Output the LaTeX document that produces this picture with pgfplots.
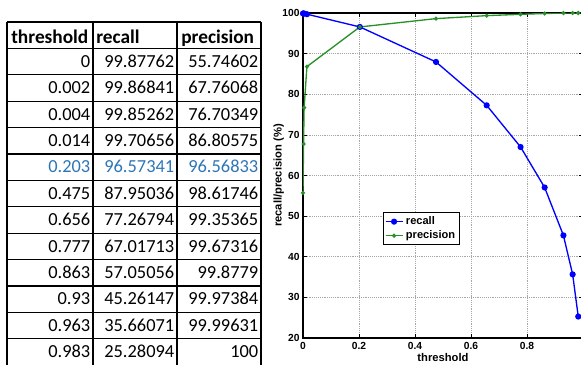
\documentclass[border=0pt]{standalone}
\usepackage{pgfplots}
\pgfplotsset{compat=1.18}
\usepackage{fontspec}
\setmainfont{Liberation Sans}
\newfontfamily\calibri{Carlito}
\definecolor{mblue}{RGB}{0,0,255}
\definecolor{mgreen}{RGB}{40,145,40}
\definecolor{xlblue}{RGB}{46,117,182}
\begin{document}
\begin{tikzpicture}
\useasboundingbox (0,0) rectangle (435.75pt,-273pt);
\begin{scope}[x=0.75pt,y=-0.75pt]
 \foreach \k in {0,...,13} \draw[line width=1pt] (7,22+26.4*\k) -- (261,22+26.4*\k);
 \foreach \c in {7,93,177,261} \draw[line width=1pt] (\c,22) -- (\c,372);
 \node[anchor=base west,inner sep=0pt,font=\calibri\bfseries\fontsize{14.5}{17}\selectfont] at (11,43) {threshold};
 \node[anchor=base west,inner sep=0pt,font=\calibri\bfseries\fontsize{14.5}{17}\selectfont] at (96,43) {recall};
 \node[anchor=base west,inner sep=0pt,font=\calibri\bfseries\fontsize{14.5}{17}\selectfont] at (181,43) {precision};
 \foreach \t/\r/\p/\col [count=\i] in {0/99.87762/55.74602/black,0.002/99.86841/67.76068/black,0.004/99.85262/76.70349/black,0.014/99.70656/86.80575/black,0.203/96.57341/96.56833/xlblue,0.475/87.95036/98.61746/black,0.656/77.26794/99.35365/black,0.777/67.01713/99.67316/black,0.863/57.05056/99.8779/black,0.93/45.26147/99.97384/black,0.963/35.66071/99.99631/black,0.983/25.28094/100/black}{
  \pgfmathsetmacro{\yb}{22+26.4*(\i+1)-7.5}
  \node[anchor=base east,inner sep=0pt,text=\col,font=\calibri\fontsize{13.8}{16}\selectfont] at (90.5,\yb) {\t};
  \node[anchor=base east,inner sep=0pt,text=\col,font=\calibri\fontsize{13.8}{16}\selectfont] at (174.5,\yb) {\r};
  \node[anchor=base east,inner sep=0pt,text=\col,font=\calibri\fontsize{13.8}{16}\selectfont] at (258.5,\yb) {\p};
 }
\end{scope}
\begin{axis}[
 at={(227.25pt,-253.5pt)}, anchor=south west,
 scale only axis, width=210pt, height=243.75pt,
 xmin=0, xmax=1, ymin=20, ymax=100,
 xtick={0,0.2,0.4,0.6,0.8}, xticklabels={0,0.2,0.4,0.6,0.8},
 ytick={20,30,40,50,60,70,80,90,100}, yticklabels={20,30,40,50,60,70,80,90,100},
 tick align=inside, major tick length=3pt,
 tick style={black, line width=0.5pt},
 axis line style={line width=1.1pt},
 grid=major, grid style={densely dotted, gray!70, line width=0.5pt},
 ticklabel style={font=\bfseries\fontsize{7.7}{9}\selectfont},
 xticklabel style={yshift=0pt},
 yticklabel style={xshift=1pt},
 xlabel={threshold}, ylabel={recall/precision (\%)},
 label style={font=\bfseries\fontsize{8.4}{10}\selectfont},
 xlabel style={yshift=4pt},
 ylabel style={yshift=-8pt},
 legend style={at={(0.285,0.388)}, anchor=north west, draw=black, line width=0.7pt,
   font=\bfseries\fontsize{8.3}{10}\selectfont, inner sep=1.2pt, row sep=-1pt},
 legend cell align=left,
 legend image code/.code={\draw[#1] (0cm,0cm) -- (0.45cm,0cm); \draw[#1,mark repeat=2,mark phase=2] plot coordinates {(0cm,0cm) (0.225cm,0cm) (0.45cm,0cm)};},
]
\addplot[mblue, line width=1pt, mark=*, mark size=1.8pt] coordinates {
(0,99.87762) (0.002,99.86841) (0.004,99.85262) (0.014,99.70656) (0.203,96.57341)
(0.475,87.95036) (0.656,77.26794) (0.777,67.01713) (0.863,57.05056) (0.93,45.26147)
(0.963,35.66071) (0.983,25.28094)};
\addlegendentry{recall}
\addplot[mgreen, line width=1pt, mark=*, mark size=1pt] coordinates {
(0,55.74602) (0.002,67.76068) (0.004,76.70349) (0.014,86.80575) (0.203,96.56833)
(0.475,98.61746) (0.656,99.35365) (0.777,99.67316) (0.863,99.8779) (0.93,99.97384)
(0.963,99.99631) (0.983,100)};
\addlegendentry{precision}
\end{axis}
\end{tikzpicture}
\end{document}
